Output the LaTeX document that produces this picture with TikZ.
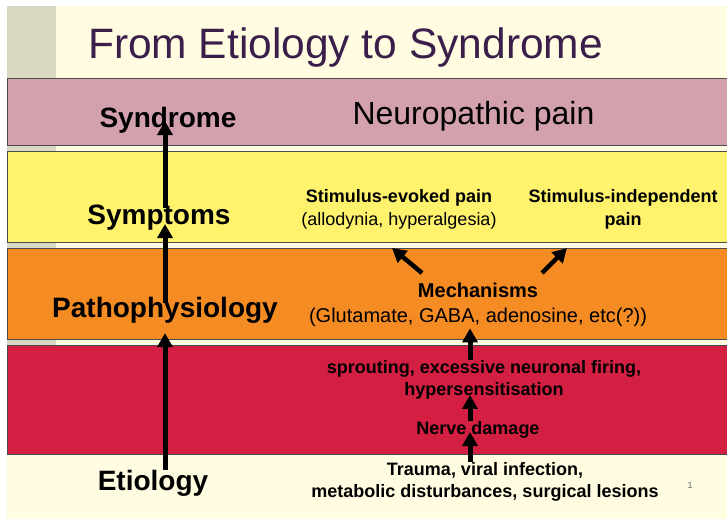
\documentclass[tikz,border=0pt]{standalone}
\usepackage{fontspec}
\setmainfont{Liberation Sans}
\usepackage{xcolor}
\usetikzlibrary{arrows.meta,positioning,calc}

\definecolor{slidecream}{HTML}{FFFCE1}
\definecolor{stripgray}{HTML}{D9D9C3}
\definecolor{syndmauve}{HTML}{D3A0AE}
\definecolor{sympyellow}{HTML}{FFF36E}
\definecolor{pathorange}{HTML}{F58B23}
\definecolor{etiored}{HTML}{D31F42}
\definecolor{titleplum}{HTML}{3B1F4B}

\tikzset{
  band/.style={draw=black!70, line width=0.8pt},
  lvl/.style={font=\fontsize{28}{32}\selectfont\bfseries, inner sep=0pt, anchor=base},
  info/.style={font=\fontsize{18}{22}\selectfont\bfseries, align=center, inner sep=0pt, anchor=base},
  uparrow/.style={line width=5pt, -{Triangle[width=15pt,length=14pt]}},
}

\begin{document}
\begin{tikzpicture}[x=1pt,y=-1pt]
\useasboundingbox (0,0) rectangle (727,520);
\fill[white] (0,0) rectangle (727,520);

% Slide background
\fill[slidecream] (7,6) rectangle (727,519);
\fill[stripgray] (7,6) rectangle (56,345);
\node[font=\fontsize{42.5}{48}\selectfont, text=titleplum, inner sep=0pt, anchor=base] (title)
  at (345.5,58) {From Etiology to Syndrome};

% Bands
\draw[band, fill=syndmauve]  (7,78)  rectangle (732,145);
\draw[band, fill=sympyellow] (7,151) rectangle (732,242);
\draw[band, fill=pathorange] (7,248) rectangle (732,339);
\draw[band, fill=etiored]    (7,345) rectangle (732,454);

% Level labels
\node[lvl] (synd)  at (168,127) {Syndrome};
\node[lvl] (symp)  at (159,224) {Symptoms};
\node[lvl] (patho) at (165,317) {Pathophysiology};
\node[lvl] (etio)  at (153,490) {Etiology};

% Contents (multi-line nodes sit on their last line)
\node[font=\fontsize{32}{36}\selectfont, inner sep=0pt, anchor=base] (neuro) at (473.5,124) {Neuropathic pain};
\node[info, font=\fontsize{18}{23}\selectfont\bfseries] (evoked) at (399,225) {Stimulus-evoked pain\\\mdseries(allodynia, hyperalgesia)};
\node[info, font=\fontsize{18}{23}\selectfont\bfseries] (indep)  at (623,225) {Stimulus-independent\\pain};
\node[info, font=\fontsize{20}{25}\selectfont\bfseries] (mech) at (478,322)
  {Mechanisms\\\mdseries(Glutamate, GABA, adenosine, etc(?))};
\node[info] (sprout) at (484,395) {sprouting, excessive neuronal firing,\\hypersensitisation};
\node[info] (nerve)  at (478,434) {Nerve damage};
\node[info] (trauma) at (485,497) {Trauma, viral infection,\\metabolic disturbances, surgical lesions};
\node[font=\fontsize{9}{10}\selectfont, text=black!60, inner sep=0pt] (slideno) at (690,485) {1};

% Arrows
\coordinate (spine) at (165,0);
\coordinate (mid) at (470,0);
\draw[uparrow, shorten >=10pt] (spine |- etio.north) -- (spine |- patho.south);
\draw[uparrow, shorten <=-6pt] (spine |- patho.north) -- (spine |- symp.base);
\draw[uparrow, shorten <=-4pt, shorten >=-6pt] (spine |- symp.north) -- (spine |- synd.base);

\draw[uparrow, shorten >=-2pt] (mid |- trauma.north) -- (mid |- nerve.base);
\draw[uparrow, shorten >=-4pt] (mid |- nerve.north) -- (mid |- sprout.south);
\draw[uparrow, shorten >=2pt] (mid |- sprout.north) -- (mid |- mech.south);

\coordinate (evokedfoot) at (422,273);
\coordinate (evokedtip) at (392,248);
\coordinate (indepfoot) at (542,273);
\coordinate (indeptip) at (567,248);
\draw[uparrow, line width=4.5pt] (evokedfoot) -- (evokedtip);
\draw[uparrow, line width=4.5pt] (indepfoot) -- (indeptip);
\end{tikzpicture}
\end{document}
